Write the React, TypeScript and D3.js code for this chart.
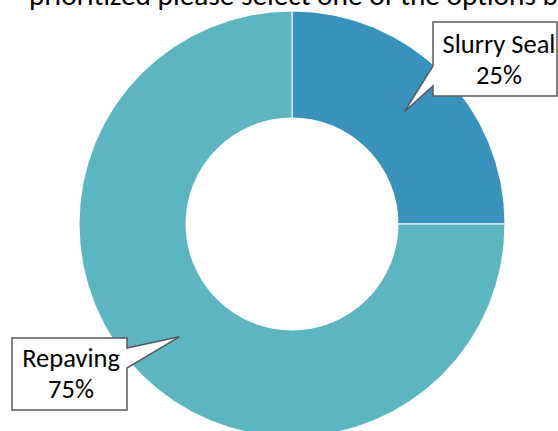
import React from "react";
import * as d3 from "d3";

const categories = ["Slurry Seal", "Repaving"];
const values = [25, 75];
const colors = ["#3793BB", "#5BB6C1"];
const labels = ["25%", "75%"];
const titleText = "prioritized please select one of the options below";

const W = 558;
const H = 431;
const cx = 292;
const cy = 224;
const outerR = 213;
const innerR = 106;

// callout boxes and their text centers
const boxes = [
  { x: 433, y: 22, w: 124, h: 74, side: "left", b0: 66, b1: 86, tx: 499, l1: 53, l2: 84 },
  { x: 12, y: 338, w: 115, h: 72, side: "right", b0: 348, b1: 368, tx: 71, l1: 367, l2: 398 },
];

export default function App() {
  const pie = d3.pie<number>().sort(null).value((d) => d);
  const arcs = pie(values);
  const arc = d3.arc<d3.PieArcDatum<number>>().innerRadius(innerR).outerRadius(outerR);
  const font = "Carlito, Calibri, 'Open Sans', 'Liberation Sans', sans-serif";

  return (
    <svg width={W} height={H} style={{ position: "absolute", left: 0, top: 0, display: "block" }}>
      <rect width={W} height={H} fill="#fff" />
      <text x={29} y={5} fontFamily={font} fontSize={29.3} fill="#000">
        {titleText}
      </text>
      <g transform={`translate(${cx},${cy})`}>
        {arcs.map((a, i) => (
          <path key={i} d={arc(a) || ""} fill={colors[i]} stroke="#fff" strokeWidth={1} />
        ))}
      </g>
      {arcs.map((a, i) => {
        const [tx, ty] = arc.centroid(a);
        const tipX = cx + tx;
        const tipY = cy + ty;
        const b = boxes[i];
        let d: string;
        if (b.side === "left") {
          d = `M${b.x},${b.y} L${b.x + b.w},${b.y} L${b.x + b.w},${b.y + b.h} L${b.x},${b.y + b.h} L${b.x},${b.b1} L${tipX},${tipY} L${b.x},${b.b0} Z`;
        } else {
          const r = b.x + b.w;
          d = `M${b.x},${b.y} L${r},${b.y} L${r},${b.b0} L${tipX},${tipY} L${r},${b.b1} L${r},${b.y + b.h} L${b.x},${b.y + b.h} Z`;
        }
        return (
          <g key={"c" + i}>
            <path d={d} fill="#fff" stroke="#595959" strokeWidth={1.5} strokeLinejoin="miter" />
            <text x={b.tx} y={b.l1} textAnchor="middle" fontFamily={font} fontSize={26.5} fill="#000">
              {categories[i]}
            </text>
            <text x={b.tx} y={b.l2} textAnchor="middle" fontFamily={font} fontSize={26.5} fill="#000">
              {labels[i]}
            </text>
          </g>
        );
      })}
    </svg>
  );
}
